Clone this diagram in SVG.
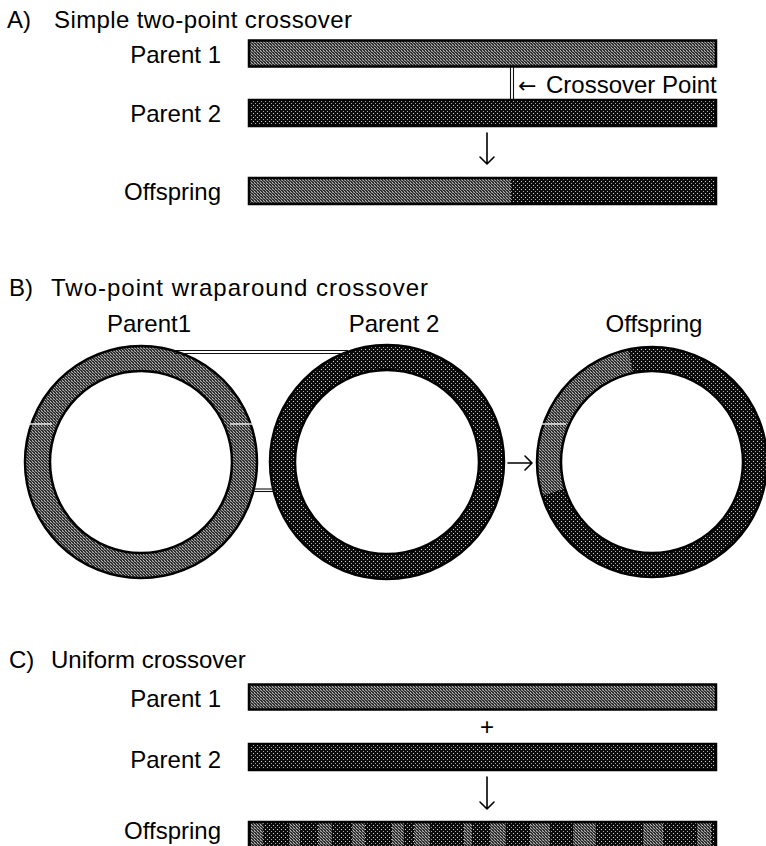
<svg xmlns="http://www.w3.org/2000/svg" width="766" height="846" viewBox="0 0 766 846">
  <style>
    text { font-family: "Liberation Sans", Arial, sans-serif; font-size: 24px; fill: #000; }
    .lbl { text-anchor: end; }
    .ctr { text-anchor: middle; }
    .bar { stroke: #000; stroke-width: 2.5; }
    .ring-edge { fill: none; stroke: #000; stroke-width: 2.5; }
    .arrow { fill: none; stroke: #000; stroke-width: 1.6; stroke-linecap: round; stroke-linejoin: round; }
    .dbl { stroke: #111; stroke-width: 1.1; }
    .tick { stroke: #f2f2f2; stroke-width: 1.4; }
  </style>
  <defs>
    <!-- parent 1 texture: medium grey stipple -->
    <pattern id="p1" width="3" height="3" patternUnits="userSpaceOnUse">
      <rect width="3" height="3" fill="#2e2e2e"/>
      <rect x="0" y="0" width="1" height="1" fill="#acacac"/>
      <rect x="1" y="1" width="1" height="1" fill="#8e8e8e"/>
      <rect x="2" y="2" width="1" height="1" fill="#b4b4b4"/>
      <rect x="2" y="0" width="1" height="1" fill="#6e6e6e"/>
    </pattern>
    <!-- parent 2 texture: near-black with sparse white dots -->
    <pattern id="p2" width="4" height="4" patternUnits="userSpaceOnUse">
      <rect width="4" height="4" fill="#0c0c0c"/>
      <rect x="1" y="1" width="1" height="1" fill="#d6d6d6"/>
      <rect x="3" y="3" width="1" height="1" fill="#a8a8a8"/>
    </pattern>
  </defs>
  <rect width="766" height="846" fill="#fff"/>

  <!-- ===== A) Simple two-point crossover ===== -->
  <g id="titleA">
    <text x="7" y="28">A)</text>
    <text x="54" y="28" textLength="298">Simple two-point crossover</text>
  </g>
  <g id="A-parent1">
    <text class="lbl" x="221" y="63">Parent 1</text>
    <rect class="bar" x="249" y="40.5" width="467" height="26" fill="url(#p1)"/>
  </g>
  <g id="A-parent2">
    <text class="lbl" x="221" y="122">Parent 2</text>
    <rect class="bar" x="249" y="100" width="467" height="26" fill="url(#p2)"/>
  </g>
  <g id="A-offspring">
    <text class="lbl" x="221" y="200">Offspring</text>
    <rect x="249" y="178" width="262" height="26" fill="url(#p1)"/>
    <rect x="511" y="178" width="205" height="26" fill="url(#p2)"/>
    <rect class="bar" x="249" y="178" width="467" height="26" fill="none"/>
  </g>
  <g id="A-crossover-point">
    <line class="dbl" x1="510.5" y1="67" x2="510.5" y2="100"/>
    <line class="dbl" x1="513.5" y1="67" x2="513.5" y2="100"/>
    <text x="518" y="93"><tspan font-family="DejaVu Sans, sans-serif" font-size="22">←</tspan><tspan x="546">Crossover Point</tspan></text>
  </g>

  <!-- ===== B) Two-point wraparound crossover ===== -->
  <g id="titleB">
    <text x="9" y="296">B)</text>
    <text x="51" y="296" textLength="377">Two-point wraparound crossover</text>
  </g>
  <g id="B-parent1">
    <text class="ctr" x="149" y="332">Parent1</text>
    <path d="M 25 462 a 116 116 0 1 0 232 0 a 116 116 0 1 0 -232 0 Z M 50 462 a 91 91 0 1 0 182 0 a 91 91 0 1 0 -182 0 Z" fill="url(#p1)" fill-rule="evenodd"/>
    <circle class="ring-edge" cx="141" cy="462" r="116"/>
    <circle class="ring-edge" cx="141" cy="462" r="91"/>
    <line class="tick" x1="28" y1="424" x2="52" y2="424"/>
    <line class="tick" x1="230" y1="424" x2="254" y2="424"/>
  </g>
  <g id="B-parent2">
    <text class="ctr" x="394" y="332">Parent 2</text>
    <path d="M 270 462 a 117 117 0 1 0 234 0 a 117 117 0 1 0 -234 0 Z M 295 462 a 92 92 0 1 0 184 0 a 92 92 0 1 0 -184 0 Z" fill="url(#p2)" fill-rule="evenodd"/>
    <circle class="ring-edge" cx="387" cy="462" r="117"/>
    <circle class="ring-edge" cx="387" cy="462" r="92"/>
  </g>
  <g id="B-offspring">
    <text class="ctr" x="654" y="332">Offspring</text>
    <path d="M 537 462 a 115 115 0 1 0 230 0 a 115 115 0 1 0 -230 0 Z M 561 462 a 91 91 0 1 0 182 0 a 91 91 0 1 0 -182 0 Z" fill="url(#p2)" fill-rule="evenodd"/>
    <!-- segment inherited from parent 1 -->
    <path d="M 542.03 495.63 A 115 115 0 0 1 628.09 349.52 L 633.08 372.99 A 91 91 0 0 0 564.98 488.61 Z" fill="url(#p1)"/>
    <circle class="ring-edge" cx="652" cy="462" r="115"/>
    <circle class="ring-edge" cx="652" cy="462" r="91"/>
    <line class="tick" x1="541" y1="424" x2="566" y2="424"/>
  </g>

  <!-- ===== C) Uniform crossover ===== -->
  <g id="titleC">
    <text x="9" y="668">C)</text>
    <text x="51" y="668">Uniform crossover</text>
  </g>
  <g id="C-parent1">
    <text class="lbl" x="221" y="707">Parent 1</text>
    <rect class="bar" x="249" y="684.5" width="467" height="25" fill="url(#p1)"/>
  </g>
  <g id="C-plus">
    <text class="ctr" x="487" y="735" font-size="22">+</text>
  </g>
  <g id="C-parent2">
    <text class="lbl" x="221" y="768">Parent 2</text>
    <rect class="bar" x="249" y="744" width="467" height="26" fill="url(#p2)"/>
  </g>
  <g id="C-offspring">
    <text class="lbl" x="221" y="839">Offspring</text>
    <rect x="249" y="822" width="467" height="24" fill="url(#p2)"/>
    <g fill="url(#p1)">
      <rect x="251" y="822" width="12" height="24"/>
      <rect x="289" y="822" width="11" height="24"/>
      <rect x="318" y="822" width="14" height="24"/>
      <rect x="352" y="822" width="13" height="24"/>
      <rect x="392" y="822" width="12" height="24"/>
      <rect x="414" y="822" width="16" height="24"/>
      <rect x="464" y="822" width="8" height="24"/>
      <rect x="490" y="822" width="16" height="24"/>
      <rect x="530" y="822" width="20" height="24"/>
      <rect x="573" y="822" width="23" height="24"/>
      <rect x="643" y="822" width="20" height="24"/>
      <rect x="697" y="822" width="14" height="24"/>
    </g>
    <rect class="bar" x="249" y="822" width="467" height="25" fill="none"/>
  </g>

  <!-- connectors -->
  <g id="connectors">
    <!-- A: parents to offspring -->
    <path class="arrow" d="M 487 133 V 164 M 480 157 L 487 164 L 494 157"/>
    <!-- B: wrap-around links between parent rings -->
    <line class="dbl" x1="172" y1="350.5" x2="348" y2="350.5"/>
    <line class="dbl" x1="174" y1="353.5" x2="346" y2="353.5" stroke="#666"/>
    <line class="dbl" x1="254" y1="489" x2="275" y2="489"/>
    <line class="dbl" x1="254" y1="491.5" x2="275" y2="491.5" stroke="#666"/>
    <!-- B: parents to offspring -->
    <path class="arrow" d="M 508 463 H 532 M 525 456 L 532 463 L 525 470"/>
    <!-- C: parents to offspring -->
    <path class="arrow" d="M 487 777 V 809 M 480 802 L 487 809 L 494 802"/>
  </g>
</svg>
